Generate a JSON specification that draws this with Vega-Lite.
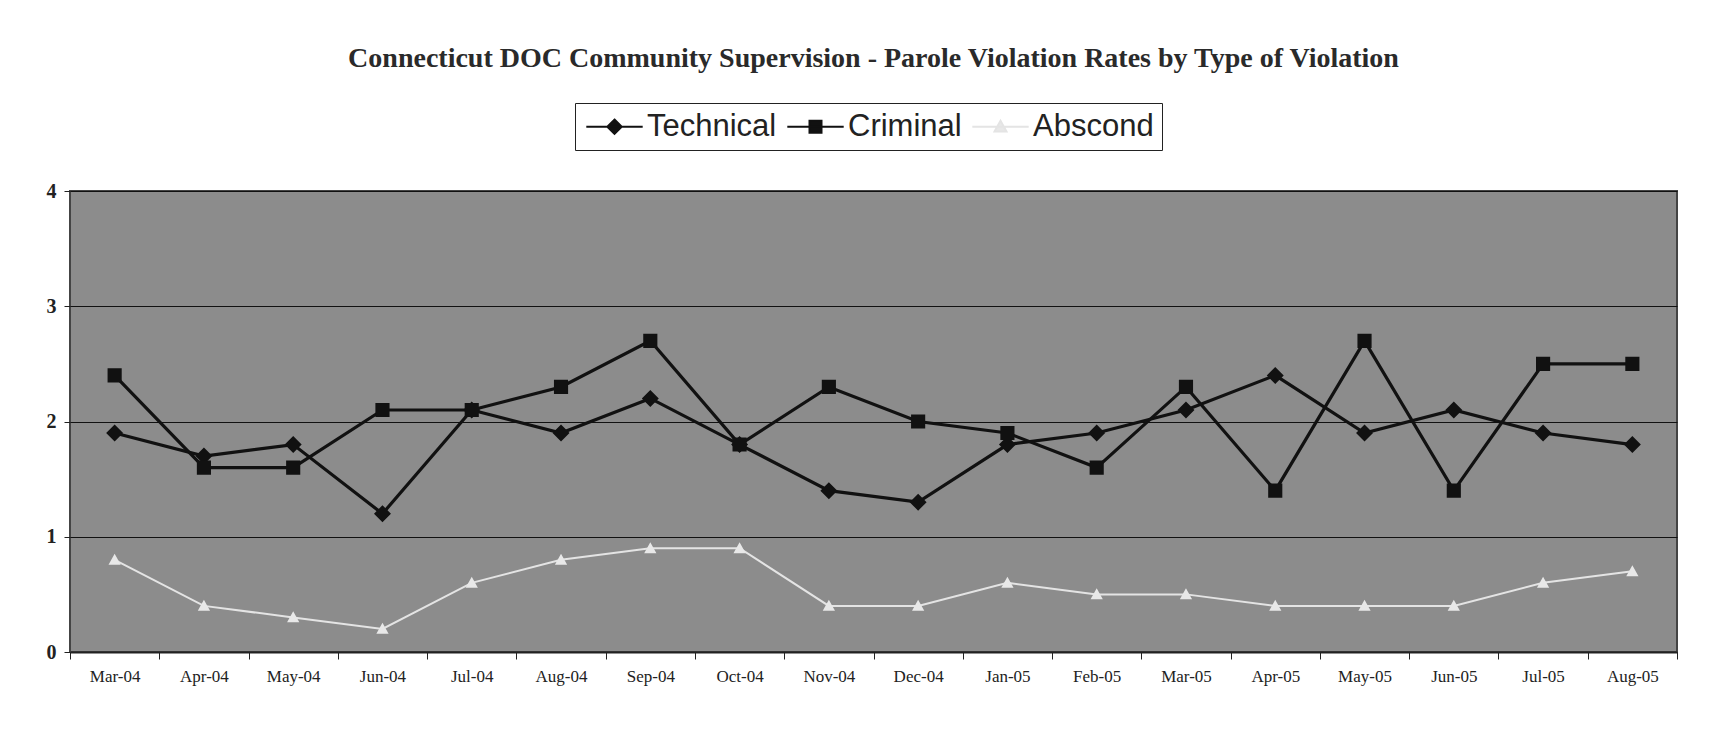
{
  "$schema": "https://vega.github.io/schema/vega-lite/v6.json",
  "autosize": "none",
  "width": 1607,
  "height": 461,
  "padding": {"left": 70, "top": 191, "right": 56, "bottom": 78},
  "background": "#ffffff",
  "title": {
    "text": "Connecticut DOC Community Supervision -  Parole Violation Rates by Type of Violation",
    "font": "Liberation Serif",
    "fontSize": 28,
    "fontWeight": "bold",
    "color": "#2a2a2a",
    "anchor": "middle",
    "offset": 30
  },
  "config": {
    "view": {"fill": "#8c8c8c", "stroke": "#444444", "strokeWidth": 2},
    "axis": {"labelFont": "Liberation Serif", "labelColor": "#222222", "tickColor": "#222222", "domainColor": "#222222"}
  },
  "data": {
    "values": [
      {"month": "Mar-04", "series": "Technical", "value": 1.9},
      {"month": "Apr-04", "series": "Technical", "value": 1.7},
      {"month": "May-04", "series": "Technical", "value": 1.8},
      {"month": "Jun-04", "series": "Technical", "value": 1.2},
      {"month": "Jul-04", "series": "Technical", "value": 2.1},
      {"month": "Aug-04", "series": "Technical", "value": 1.9},
      {"month": "Sep-04", "series": "Technical", "value": 2.2},
      {"month": "Oct-04", "series": "Technical", "value": 1.8},
      {"month": "Nov-04", "series": "Technical", "value": 1.4},
      {"month": "Dec-04", "series": "Technical", "value": 1.3},
      {"month": "Jan-05", "series": "Technical", "value": 1.8},
      {"month": "Feb-05", "series": "Technical", "value": 1.9},
      {"month": "Mar-05", "series": "Technical", "value": 2.1},
      {"month": "Apr-05", "series": "Technical", "value": 2.4},
      {"month": "May-05", "series": "Technical", "value": 1.9},
      {"month": "Jun-05", "series": "Technical", "value": 2.1},
      {"month": "Jul-05", "series": "Technical", "value": 1.9},
      {"month": "Aug-05", "series": "Technical", "value": 1.8},
      {"month": "Mar-04", "series": "Criminal", "value": 2.4},
      {"month": "Apr-04", "series": "Criminal", "value": 1.6},
      {"month": "May-04", "series": "Criminal", "value": 1.6},
      {"month": "Jun-04", "series": "Criminal", "value": 2.1},
      {"month": "Jul-04", "series": "Criminal", "value": 2.1},
      {"month": "Aug-04", "series": "Criminal", "value": 2.3},
      {"month": "Sep-04", "series": "Criminal", "value": 2.7},
      {"month": "Oct-04", "series": "Criminal", "value": 1.8},
      {"month": "Nov-04", "series": "Criminal", "value": 2.3},
      {"month": "Dec-04", "series": "Criminal", "value": 2.0},
      {"month": "Jan-05", "series": "Criminal", "value": 1.9},
      {"month": "Feb-05", "series": "Criminal", "value": 1.6},
      {"month": "Mar-05", "series": "Criminal", "value": 2.3},
      {"month": "Apr-05", "series": "Criminal", "value": 1.4},
      {"month": "May-05", "series": "Criminal", "value": 2.7},
      {"month": "Jun-05", "series": "Criminal", "value": 1.4},
      {"month": "Jul-05", "series": "Criminal", "value": 2.5},
      {"month": "Aug-05", "series": "Criminal", "value": 2.5},
      {"month": "Mar-04", "series": "Abscond", "value": 0.8},
      {"month": "Apr-04", "series": "Abscond", "value": 0.4},
      {"month": "May-04", "series": "Abscond", "value": 0.3},
      {"month": "Jun-04", "series": "Abscond", "value": 0.2},
      {"month": "Jul-04", "series": "Abscond", "value": 0.6},
      {"month": "Aug-04", "series": "Abscond", "value": 0.8},
      {"month": "Sep-04", "series": "Abscond", "value": 0.9},
      {"month": "Oct-04", "series": "Abscond", "value": 0.9},
      {"month": "Nov-04", "series": "Abscond", "value": 0.4},
      {"month": "Dec-04", "series": "Abscond", "value": 0.4},
      {"month": "Jan-05", "series": "Abscond", "value": 0.6},
      {"month": "Feb-05", "series": "Abscond", "value": 0.5},
      {"month": "Mar-05", "series": "Abscond", "value": 0.5},
      {"month": "Apr-05", "series": "Abscond", "value": 0.4},
      {"month": "May-05", "series": "Abscond", "value": 0.4},
      {"month": "Jun-05", "series": "Abscond", "value": 0.4},
      {"month": "Jul-05", "series": "Abscond", "value": 0.6},
      {"month": "Aug-05", "series": "Abscond", "value": 0.7}
    ]
  },
  "encoding": {
    "x": {
      "field": "month", "type": "nominal", "sort": null,
      "scale": {"type": "band", "paddingInner": 0, "paddingOuter": 0},
      "axis": {"title": null, "labelAngle": 0, "labelFontSize": 17, "tickBand": "extent", "tickSize": 7, "labelPadding": 9, "domainWidth": 2, "domainColor": "#222222"}
    },
    "y": {
      "field": "value", "type": "quantitative",
      "scale": {"domain": [0, 4], "nice": false},
      "axis": {"title": null, "values": [0, 1, 2, 3, 4], "labelFontSize": 20, "labelFontWeight": "bold", "tickSize": 6, "labelPadding": 8, "domain": false, "grid": true, "gridColor": "#111111", "gridWidth": 1.2, "gridOpacity": 1}
    }
  },
  "layer": [
    {
      "mark": {"type": "line"},
      "encoding": {
        "stroke": {
          "field": "series", "type": "nominal",
          "scale": {"domain": ["Technical", "Criminal", "Abscond"], "range": ["#111111", "#111111", "#e4e4e4"]},
          "legend": {
            "title": null,
            "orient": "none",
            "direction": "horizontal",
            "legendX": 505,
            "legendY": -88,
            "labelFont": "Liberation Sans",
            "labelFontSize": 31,
            "labelColor": "#222222",
            "symbolSize": 576,
            "symbolStrokeWidth": 2,
            "symbolOffset": 16,
            "labelOffset": 17,
            "columnPadding": 6,
            "padding": 8,
            "strokeColor": "#222222",
            "fillColor": "#ffffff"
          }
        },
        "strokeWidth": {"condition": {"test": "datum.series === 'Abscond'", "value": 2}, "value": 3.2}
      }
    },
    {
      "mark": {"type": "point", "filled": true, "opacity": 1},
      "encoding": {
        "fill": {
          "field": "series", "type": "nominal",
          "scale": {"domain": ["Technical", "Criminal", "Abscond"], "range": ["#111111", "#111111", "#e8e8e8"]}
        },
        "shape": {
          "field": "series", "type": "nominal",
          "scale": {"domain": ["Technical", "Criminal", "Abscond"], "range": ["M-2.35,0H2.35M0,-0.6L0.6,0L0,0.6L-0.6,0Z", "M-2.35,0H2.35M-0.5,-0.5H0.5V0.5H-0.5Z", "M-2.35,0H2.35M0,-0.5L0.5,0.4H-0.5Z"]}
        },
        "size": {"condition": {"test": "datum.series === 'Abscond'", "value": 600}, "value": 800}
      }
    }
  ]
}
